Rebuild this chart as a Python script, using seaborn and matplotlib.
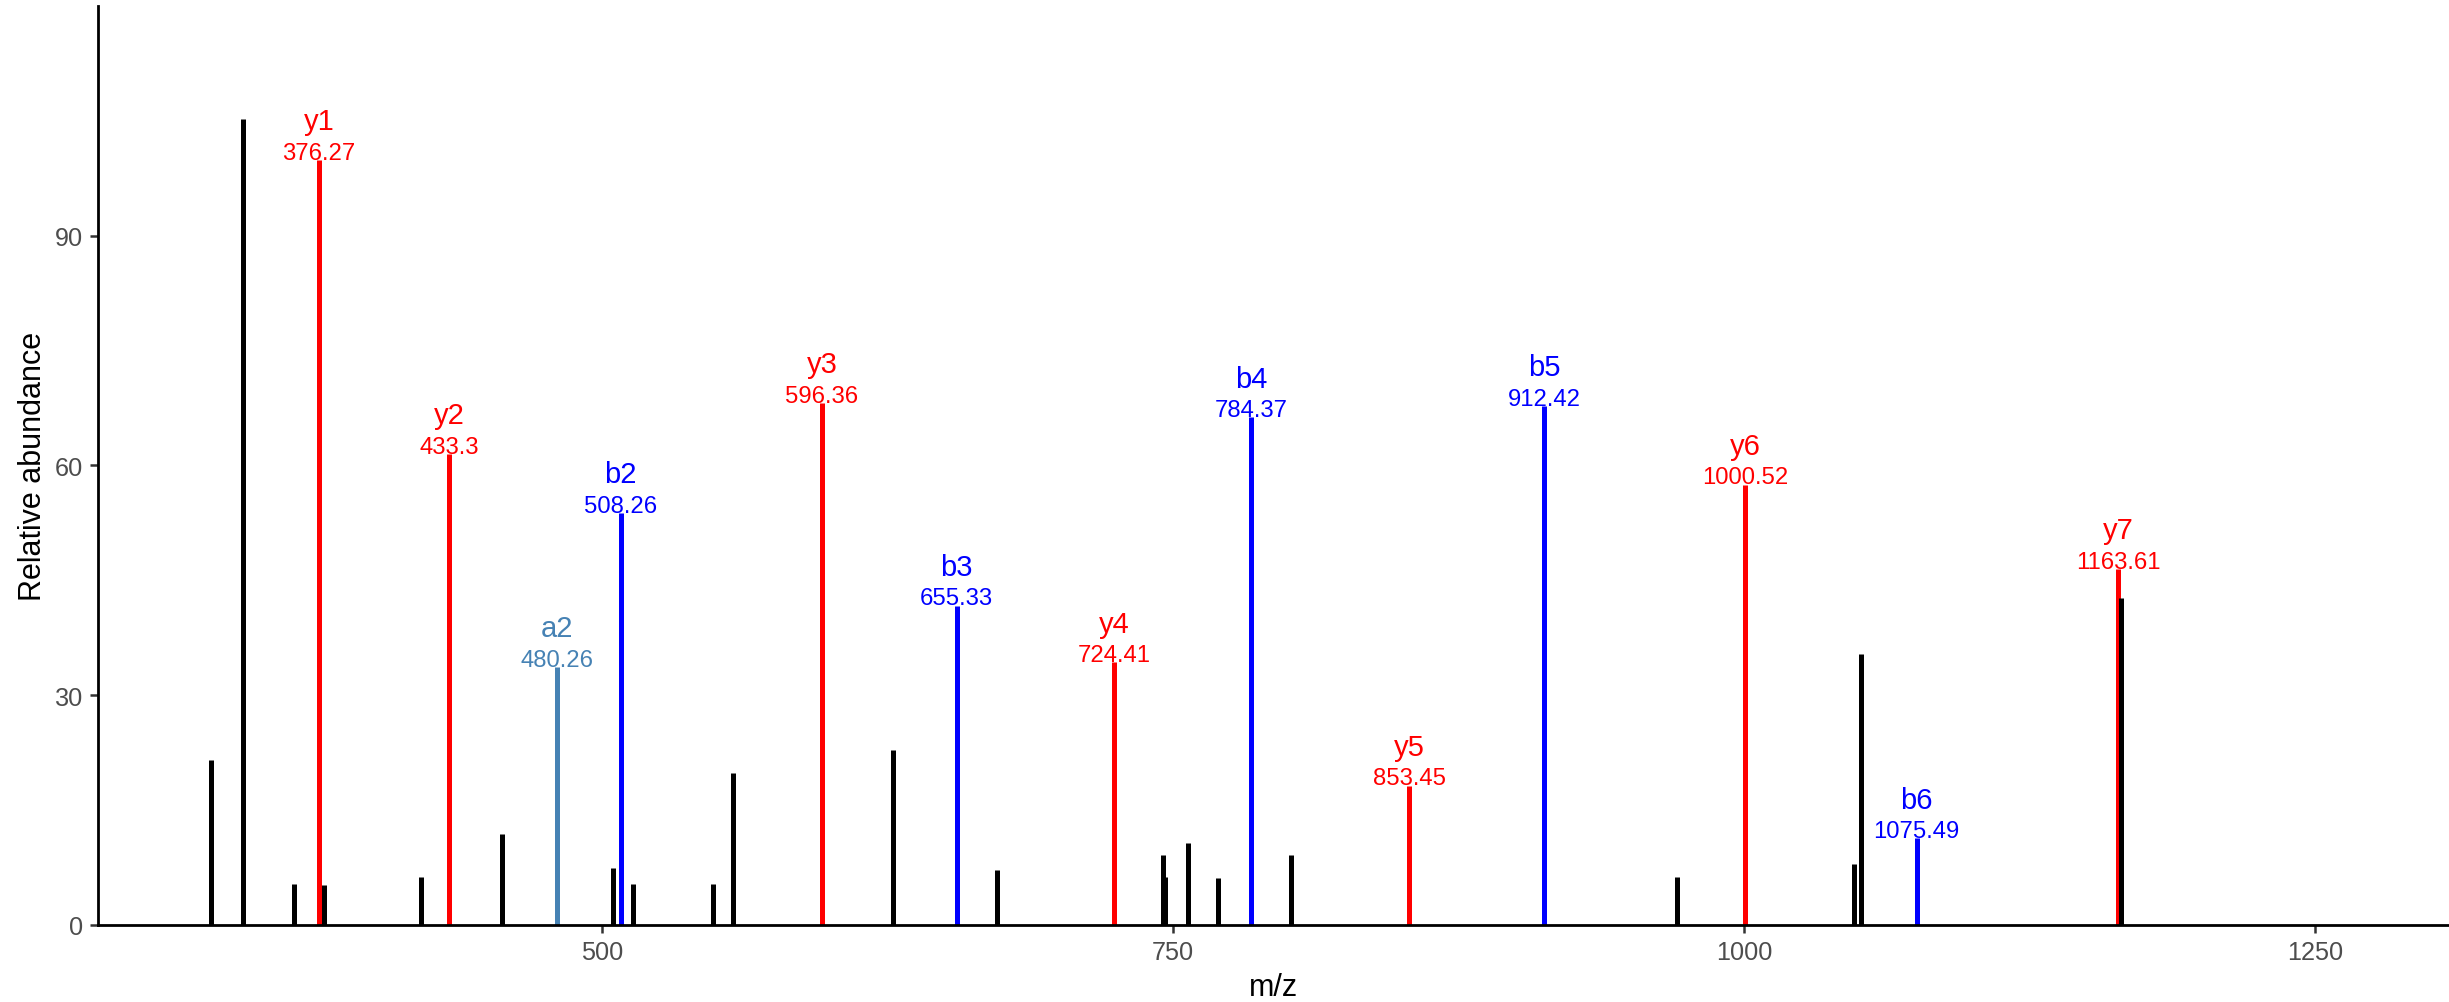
import pandas as pd
import seaborn as sns
from matplotlib import pyplot as plt

# annotated fragment peaks
ion_labels = ["y1", "y2", "a2", "b2", "y3", "b3", "y4", "b4", "y5", "b5", "y6", "b6", "y7"]
ion_mz = [376.27, 433.3, 480.26, 508.26, 596.36, 655.33, 724.41, 784.37, 853.45, 912.42, 1000.52, 1075.49, 1163.61]
ion_int = [99.9, 61.5, 33.7, 53.8, 68.2, 41.7, 34.3, 66.3, 18.2, 67.8, 57.5, 11.3, 46.5]

# unannotated peaks
other_mz = [329.1, 342.8, 365.3, 378.3, 420.8, 456.3, 504.9, 513.8, 548.7, 557.6, 627.4, 673.2,
            745.6, 746.4, 756.4, 769.6, 801.7, 970.7, 1047.9, 1051.1, 1165.0]
other_int = [21.6, 105.3, 5.4, 5.2, 6.2, 11.9, 7.5, 5.3, 5.3, 19.8, 22.8, 7.2,
             9.1, 6.2, 10.7, 6.1, 9.2, 6.2, 7.9, 35.4, 42.7]

x_ticks = [500, 750, 1000, 1250]
y_ticks = [0, 30, 60, 90]

palette = {"a": "#4682B4", "b": "#0000FF", "y": "#FF0000", "none": "#000000"}

ions = pd.DataFrame({"label": ion_labels, "mz": ion_mz, "intensity": ion_int})
ions["kind"] = ions["label"].str[0]
others = pd.DataFrame({"mz": other_mz, "intensity": other_int})
others["kind"] = "none"

sns.set_style("ticks")
plt.rcParams["font.family"] = ["Liberation Sans", "DejaVu Sans"]

fig, ax = plt.subplots(figsize=(12.245, 5.015), dpi=200)
fig.subplots_adjust(left=0.0400, right=1.0, bottom=0.0768, top=0.993)

ax.vlines(ions["mz"], 0, ions["intensity"], colors=ions["kind"].map(palette), linewidth=1.8)
ax.vlines(others["mz"], 0, others["intensity"], colors=others["kind"].map(palette), linewidth=1.8)

for _, r in ions.iterrows():
    c = palette[r["kind"]]
    ax.text(r["mz"], r["intensity"] + 0.15, f"{r['mz']:g}", color=c, fontsize=8.6,
            ha="center", va="baseline")
    ax.text(r["mz"], r["intensity"] + 4.0, r["label"], color=c, fontsize=10.5,
            ha="center", va="baseline")

ax.set_xlim(279.5, 1308.5)
ax.set_ylim(0, 120)
ax.set_xticks(x_ticks)
ax.set_yticks(y_ticks)
ax.set_xlabel("m/z", fontsize=11, color="black", labelpad=3)
ax.set_ylabel("Relative abundance", fontsize=11, color="black", labelpad=2.5)
ax.tick_params(axis="both", labelsize=9.1, labelcolor="#4D4D4D", color="#333333",
               length=2.75, width=0.9, pad=2.5)
sns.despine(ax=ax)
for side in ["left", "bottom"]:
    ax.spines[side].set_linewidth(1.0)
    ax.spines[side].set_color("black")

fig.savefig("out.png", dpi=200)
